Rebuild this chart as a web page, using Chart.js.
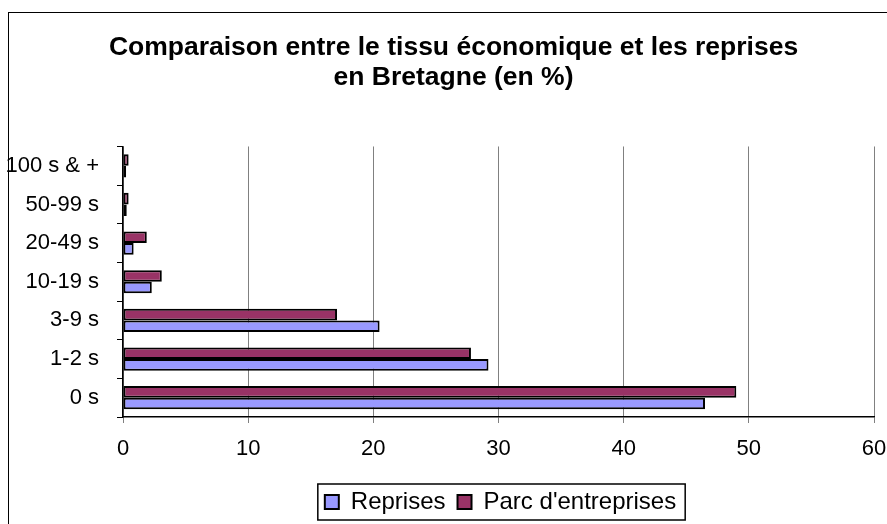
<!DOCTYPE html>
<html>
<head>
<meta charset="utf-8">
<script src="https://cdn.jsdelivr.net/npm/chart.js@4"></script>
<style>
  html, body { margin: 0; padding: 0; background: #fff; overflow: hidden; }
  #frame { position: absolute; left: 8px; top: 12px; width: 900px; height: 540px; border: 1.5px solid #000; }
  #wrap { position: absolute; left: 0; top: 0; width: 887px; height: 524px; }
</style>
</head>
<body>
<div id="frame"></div>
<div id="wrap"><canvas id="chart"></canvas></div>
<script>
// Tranches d'effectifs (du haut vers le bas)
const categories = ['100 s & +', '50-99 s', '20-49 s', '10-19 s', '3-9 s', '1-2 s', '0 s'];
const parcValues = [0.45, 0.45, 1.9, 3.1, 17.1, 27.8, 49.0];
const reprisesValues = [0.25, 0.3, 0.85, 2.3, 20.5, 29.2, 46.5];
const xTicks = [0, 10, 20, 30, 40, 50, 60];

const FONT = "'Liberation Sans', Arial, sans-serif";

// Titre et légende décalés vers la droite, légende encadrée
const layoutTweaks = {
  id: 'layoutTweaks',
  afterLayout(chart) {
    const tb = chart.titleBlock;
    if (tb) { tb.left += 10; tb.right += 10; }
    const lg = chart.legend;
    if (lg) {
      lg.left += 57;
      lg.right += 57;
      lg.legendHitBoxes.forEach(b => { b.left += 57; });
    }
  },
  afterDraw(chart) {
    const boxes = chart.legend && chart.legend.legendHitBoxes;
    if (!boxes || !boxes.length) return;
    const left = Math.min(...boxes.map(b => b.left)) - 7;
    const right = Math.max(...boxes.map(b => b.left + b.width)) + 9;
    const mid = boxes[0].top + boxes[0].height / 2;
    const ctx = chart.ctx;
    ctx.save();
    ctx.strokeStyle = '#000';
    ctx.lineWidth = 1.5;
    ctx.strokeRect(left, mid - 18, right - left, 36);
    ctx.restore();
  }
};

const ctx = document.getElementById('chart').getContext('2d');
new Chart(ctx, {
  type: 'bar',
  data: {
    labels: categories,
    datasets: [
      {
        label: "Parc d'entreprises",
        data: parcValues,
        backgroundColor: '#993366',
        borderColor: '#000',
        borderWidth: 2,
        borderSkipped: false
      },
      {
        label: 'Reprises',
        data: reprisesValues,
        backgroundColor: '#9999FF',
        borderColor: '#000',
        borderWidth: 2,
        borderSkipped: false
      }
    ]
  },
  options: {
    indexAxis: 'y',
    responsive: true,
    maintainAspectRatio: false,
    animation: false,
    categoryPercentage: 0.6,
    barPercentage: 1,
    layout: { padding: { left: 0, right: 0, top: 0, bottom: 0 } },
    plugins: {
      title: {
        display: true,
        text: ['Comparaison entre le tissu économique et les reprises', 'en Bretagne (en %)'],
        color: '#000',
        font: { family: FONT, size: 26.5, weight: 'bold', lineHeight: 1.16 },
        padding: { top: 32, bottom: 53 }
      },
      legend: {
        position: 'bottom',
        reverse: true,
        labels: {
          color: '#000',
          font: { family: FONT, size: 24 },
          boxWidth: 14,
          boxHeight: 14,
          padding: 12
        }
      },
      tooltip: { enabled: false }
    },
    scales: {
      x: {
        min: 0,
        max: 60,
        afterBuildTicks: s => { s.ticks = xTicks.map(v => ({ value: v })); },
        afterFit: s => { s.height = 61; s.paddingLeft = 0; s.paddingRight = 13; },
        ticks: { color: '#000', font: { family: FONT, size: 22 }, padding: 13 },
        grid: { color: '#808080', lineWidth: 1, tickLength: 6 },
        border: { color: '#000', width: 1.5 }
      },
      y: {
        afterFit: s => { s.width = 123; },
        ticks: { color: '#000', font: { family: FONT, size: 22 }, padding: 18 },
        grid: { drawOnChartArea: false, color: '#000', tickLength: 6 },
        border: { color: '#000', width: 1.5 }
      }
    }
  },
  plugins: [layoutTweaks]
});
</script>
</body>
</html>
